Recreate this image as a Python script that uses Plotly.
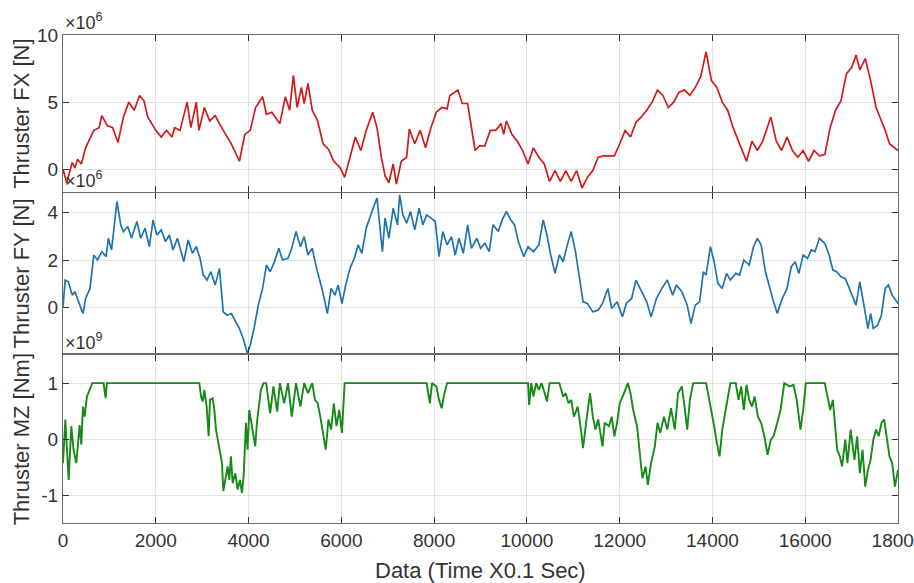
import plotly.graph_objects as go

# ---------------- data ----------------
# Thruster FX, values in units of 1e6 N
fx_t = [0, 81, 198, 256, 314, 395, 488, 663, 779, 837, 954, 1070, 1186, 1303, 1419, 1535, 1651, 1745, 1826,
        2000, 2117, 2233, 2349, 2407, 2524, 2675, 2756, 2873, 2931, 3047, 3163, 3280, 3454, 3629, 3803, 3919,
        4036, 4152, 4303, 4385, 4501, 4675, 4792, 4885, 4966, 5047, 5140, 5198, 5280, 5373, 5489, 5606, 5722,
        5838, 5978, 6071, 6187, 6303, 6420, 6536, 6676, 6769, 6862, 6943, 7025, 7118, 7187, 7292, 7408, 7466,
        7583, 7699, 7815, 7931, 8048, 8164, 8280, 8339, 8513, 8606, 8722, 8804, 8885, 8978, 9094, 9211, 9327,
        9443, 9501, 9559, 9676, 9792, 9908, 10025, 10141, 10257, 10374, 10490, 10606, 10723, 10839, 10955,
        11072, 11188, 11304, 11421, 11537, 11653, 11886, 12002, 12118, 12234, 12351, 12467, 12583, 12700,
        12816, 12932, 13049, 13165, 13281, 13398, 13514, 13630, 13747, 13863, 13979, 14096, 14212, 14328,
        14445, 14561, 14735, 14852, 14968, 15084, 15258, 15375, 15491, 15608, 15724, 15840, 15956, 16073,
        16189, 16305, 16422, 16538, 16654, 16771, 16887, 17003, 17096, 17178, 17294, 17410, 17527, 17643,
        17724, 17817, 17934, 18000]
fx_v = [0, -1.0, 0.5, 0.1, 0.75, 0.4, 1.6, 2.9, 3.1, 4.0, 3.25, 3.1, 2.0, 3.9, 5.0, 4.4, 5.5, 5.1, 3.9,
        2.9, 2.4, 2.9, 2.4, 3.1, 2.9, 5.0, 3.1, 5.0, 2.9, 4.6, 3.6, 4.0, 2.9, 1.9, 0.6, 2.6,
        2.9, 4.6, 5.4, 4.1, 4.25, 3.4, 5.4, 4.4, 7.0, 4.6, 6.1, 4.9, 6.4, 4.4, 3.6, 1.9, 1.5,
        0.6, 0.1, -0.6, 0.9, 2.4, 1.4, 2.9, 4.25, 3.1, 0.9, -0.5, -1.0, 0.4, -1.1, 0.6, 0.9, 3.0,
        1.9, 2.9, 1.6, 3.1, 4.25, 4.6, 4.5, 5.5, 5.9, 4.9, 4.9, 3.1, 1.4, 1.75, 1.75, 2.9, 2.9,
        3.4, 2.6, 3.6, 2.6, 2.1, 1.4, 0.4, 1.6, 0.9, 0.4, -0.9, -0.1, -0.9, -0.1, -0.9,
        -0.1, -1.4, -0.6, -0.1, 0.9, 1.0, 1.0, 1.9, 2.9, 2.4, 3.5, 3.9, 4.4, 5.0,
        5.9, 5.5, 4.6, 5.0, 5.75, 5.9, 5.5, 6.1, 6.9, 8.75, 6.6, 6.1, 5.0, 4.4,
        3.1, 2.1, 0.6, 2.1, 1.4, 2.1, 3.9, 2.1, 1.4, 2.4, 1.4, 0.9, 1.4, 0.6,
        1.4, 1.0, 1.1, 3.1, 4.4, 5.1, 7.1, 7.6, 8.5, 7.4, 8.25, 6.6, 4.6, 3.6,
        2.9, 1.9, 1.6, 1.4]

# Thruster FY, values in units of 1e6 N
fy_t = [0, 47, 116, 198, 256, 349, 430, 488, 582, 663, 744, 837, 930, 977, 1047, 1163, 1244, 1303, 1396,
        1477, 1593, 1675, 1768, 1861, 1942, 2024, 2117, 2210, 2291, 2373, 2466, 2605, 2698, 2791, 2873,
        2954, 3024, 3105, 3187, 3280, 3373, 3454, 3536, 3629, 3722, 3803, 3896, 3977, 4036, 4117, 4210,
        4303, 4385, 4466, 4559, 4652, 4733, 4850, 4931, 5024, 5117, 5199, 5280, 5373, 5466, 5582, 5699,
        5780, 5862, 5931, 6013, 6094, 6187, 6280, 6362, 6443, 6536, 6629, 6711, 6769, 6827, 6885, 6943,
        7025, 7118, 7211, 7257, 7327, 7408, 7490, 7583, 7676, 7757, 7839, 7932, 8025, 8106, 8188, 8281,
        8374, 8455, 8536, 8629, 8723, 8804, 8920, 9002, 9095, 9188, 9269, 9385, 9467, 9560, 9653, 9734,
        9816, 9932, 10025, 10141, 10258, 10351, 10432, 10514, 10607, 10700, 10781, 10862, 10955, 11048,
        11130, 11211, 11304, 11421, 11537, 11630, 11746, 11828, 11944, 12060, 12142, 12258, 12351, 12467,
        12584, 12677, 12793, 12909, 13026, 13142, 13223, 13340, 13456, 13537, 13630, 13723, 13805, 13863,
        13956, 14037, 14119, 14212, 14305, 14386, 14503, 14584, 14677, 14793, 14886, 14968, 15049, 15142,
        15235, 15317, 15398, 15491, 15607, 15700, 15782, 15863, 15956, 16049, 16131, 16212, 16305, 16421,
        16515, 16596, 16677, 16770, 16864, 16945, 17026, 17096, 17177, 17259, 17352, 17410, 17468, 17561,
        17642, 17724, 17794, 17875, 18000]
fy_v = [0.04, 1.16, 1.09, 0.53, 0.67, 0.18, -0.24, 0.39, 0.81, 2.21, 2.0, 2.35, 2.14, 2.91, 2.42, 4.45,
        3.47, 3.19, 3.40, 2.91, 3.61, 2.91, 3.33, 2.56, 3.68, 3.05, 3.26, 2.77, 3.05, 2.42, 2.91, 1.93,
        2.84, 2.28, 2.56, 2.07, 1.37, 1.16, 1.51, 0.95, 1.65, -0.17, -0.31, -0.24, -0.59, -0.87, -1.36,
        -1.92, -1.57, -0.87, 0.11, 0.81, 1.79, 1.51, 1.93, 2.49, 2.0, 2.07, 2.49, 3.19, 2.56, 2.98, 2.21,
        2.49, 1.65, 0.81, -0.24, 0.81, 0.53, 0.95, 0.18, 0.95, 1.65, 2.07, 2.63, 2.28, 3.33, 3.89, 4.31,
        4.59, 3.33, 2.35, 3.75, 2.91, 4.17, 3.47, 4.73, 3.89, 3.54, 4.03, 3.26, 4.17, 3.47, 3.89, 3.75,
        3.61, 2.14, 3.19, 2.63, 2.98, 2.21, 2.91, 2.28, 3.47, 2.49, 2.91, 2.49, 2.70, 2.35, 3.47, 3.19,
        3.68, 4.03, 3.68, 3.47, 2.77, 2.14, 2.56, 2.35, 2.63, 3.68, 3.05, 2.21, 1.44, 2.21, 1.93, 2.56,
        3.19, 2.35, 1.23, 0.25, 0.18, -0.17, -0.10, 0.18, 0.81, -0.03, 0.25, -0.38, 0.18, 0.39, 1.16,
        0.67, 0.25, -0.38, 0.39, 0.81, 1.16, 0.53, 0.95, 0.67, 0.11, -0.66, 0.11, 0.25, 1.51, 1.37,
        2.56, 1.93, 1.02, 0.81, 1.44, 1.16, 1.44, 1.37, 2.0, 1.79, 2.56, 2.91, 2.63, 1.51, 0.81, 0.25,
        -0.24, 0.32, 0.81, 1.72, 1.93, 1.44, 2.21, 2.07, 2.42, 2.35, 2.91, 2.70, 2.21, 1.58, 1.51, 1.30,
        1.23, 0.81, 0.39, 0.11, 1.09, 0.18, -0.87, -0.24, -0.87, -0.73, -0.31, 0.81, 0.95, 0.53, 0.18]

# Thruster MZ, values in units of 1e9 Nm
mz_t = [0, 50, 122, 179, 229, 287, 358, 394, 430, 466, 516, 574, 631, 875, 918, 946, 2940, 2976, 3011,
        3047, 3097, 3140, 3169, 3227, 3262, 3298, 3370, 3427, 3456, 3513, 3549, 3585, 3620, 3657, 3714,
        3764, 3814, 3857, 3893, 3944, 3979, 4015, 4051, 4087, 4144, 4180, 4230, 4266, 4323, 4380, 4466,
        4536, 4617, 4675, 4768, 4850, 4931, 5024, 5117, 5199, 5280, 5373, 5431, 5489, 5547, 5606, 5664,
        5722, 5780, 5838, 5896, 5955, 6013, 6071, 7839, 7908, 7955, 8048, 8106, 8164, 8222, 8280, 10025,
        10048, 10095, 10141, 10200, 10258, 10316, 10374, 10432, 10490, 10700, 10781, 10839, 10897, 10955,
        11014, 11095, 11165, 11211, 11281, 11362, 11421, 11479, 11537, 11630, 11676, 11770, 11828, 11886,
        11944, 12002, 12095, 12177, 12234, 12292, 12374, 12444, 12490, 12560, 12607, 12677, 12758, 12816,
        12874, 12955, 13026, 13107, 13188, 13258, 13340, 13398, 13456, 13514, 13584, 13863, 13921, 13979,
        14037, 14096, 14154, 14212, 14282, 14328, 14386, 14503, 14561, 14619, 14677, 14735, 14793, 14852,
        14910, 14980, 15049, 15119, 15189, 15258, 15317, 15398, 15468, 15549, 15665, 15747, 15817, 15898,
        15956, 16014, 16422, 16480, 16538, 16596, 16654, 16689, 16747, 16794, 16864, 16910, 16980, 17061,
        17119, 17178, 17236, 17294, 17352, 17410, 17468, 17527, 17585, 17643, 17701, 17759, 17817, 17875,
        17934, 18000]
mz_v = [-0.43, 0.35, -0.73, 0.23, -0.2, -0.43, 0.25, -0.1, 0.58, 0.4, 0.76, 0.88, 1.0, 1.0, 0.73, 1.0, 1.0,
        0.76, 0.67, 0.88, 0.58, 0.05, 0.7, 0.73, 0.52, 0.17, -0.13, -0.43, -0.93, -0.61, -0.49, -0.73,
        -0.31, -0.79, -0.61, -0.9, -0.73, -0.96, -0.67, 0.29, -0.19, 0.52, 0.35, 0.17, -0.13, 0.29, 0.58,
        0.88, 1.0, 1.0, 0.46, 0.94, 0.49, 1.0, 0.64, 1.0, 0.40, 1.0, 0.58, 1.0, 0.82, 1.0, 0.70, 0.64,
        0.40, 0.11, -0.19, 0.35, 0.17, 0.64, 0.23, 0.52, 0.11, 1.0, 1.0, 0.64, 1.0, 0.94, 0.70, 0.55,
        0.82, 1.0, 1.0, 0.61, 1.0, 0.76, 1.0, 0.88, 1.0, 0.85, 0.67, 1.0, 1.0, 0.76, 0.82, 0.64, 0.70,
        0.40, 0.58, 0.17, -0.16, 0.32, 0.82, 0.40, 0.17, 0.35, -0.13, 0.29, 0.23, 0.40, 0.05, 0.29, 0.64,
        0.82, 1.0, 0.82, 0.52, 0.23, -0.31, -0.70, -0.49, -0.82, -0.43, -0.13, 0.29, 0.11, 0.40, 0.17,
        0.55, 0.17, 0.82, 0.94, 0.58, 0.17, 0.70, 1.0, 1.0, 0.76, 0.46, 0.23, -0.07, -0.31, 0.17, 0.52,
        0.70, 1.0, 1.0, 0.70, 0.94, 0.52, 0.97, 0.70, 0.58, 0.76, 0.40, 0.29, 0.05, -0.28, -0.01, 0.05,
        0.29, 0.52, 1.0, 0.94, 0.97, 0.70, 0.17, 0.52, 1.0, 1.0, 0.76, 0.52, 0.70, 0.17, -0.19, -0.31,
        -0.49, -0.01, -0.43, 0.17, -0.37, 0.05, -0.61, -0.19, -0.85, -0.55, -0.37, -0.01, 0.17, 0.05,
        0.29, 0.35, 0.05, -0.31, -0.43, -0.85, -0.55]

x_ticks = [0, 2000, 4000, 6000, 8000, 10000, 12000, 14000, 16000, 18000]
x_tick_labels = ["0", "2000", "4000", "6000", "8000", "10000", "12000", "14000", "16000", "18000"]
fx_ticks = [0, 5, 10]
fy_ticks = [0, 2, 4]
mz_ticks = [-1, 0, 1]

# ---------------- styling ----------------
FONT = "Arial, 'Liberation Sans', Helvetica, sans-serif"
TXT = "#333333"
GRID = "#e3e3e3"
AX = "#6a6a6a"

fig = go.Figure()
fig.add_trace(go.Scatter(x=fx_t, y=fx_v, mode="lines", line=dict(color="#cf1b1b", width=1.7),
                         xaxis="x", yaxis="y", showlegend=False))
fig.add_trace(go.Scatter(x=fy_t, y=fy_v, mode="lines", line=dict(color="#1f74b0", width=1.7),
                         xaxis="x2", yaxis="y2", showlegend=False))
fig.add_trace(go.Scatter(x=mz_t, y=mz_v, mode="lines", line=dict(color="#168a16", width=1.9),
                         xaxis="x3", yaxis="y3", showlegend=False))


def xax(anchor, labels):
    return dict(domain=[0, 1], anchor=anchor, range=[0, 18000], tickvals=x_ticks,
                ticktext=x_tick_labels, automargin=False, ticklabeloverflow="allow",
                showticklabels=labels, showgrid=True, gridcolor=GRID, gridwidth=1,
                showline=True, linecolor=AX, linewidth=1.2, mirror="ticks",
                ticks="inside", ticklen=6, tickcolor="#333", zeroline=False,
                tickfont=dict(size=19, color=TXT, family=FONT))


def yax(anchor, dom, rng, tv):
    return dict(domain=dom, anchor=anchor, range=rng, tickvals=tv,
                ticktext=[str(v) for v in tv], automargin=False, ticklabeloverflow="allow",
                showgrid=True, gridcolor=GRID, gridwidth=1,
                showline=True, linecolor=AX, linewidth=1.2, mirror="ticks",
                ticks="inside", ticklen=6, tickcolor="#333", zeroline=False,
                tickfont=dict(size=19, color=TXT, family=FONT))


d1 = [0.678, 1.0]
d2 = [0.348, 0.676]
d3 = [0.0, 0.344]

fig.update_layout(
    width=914, height=583,
    margin=dict(l=63, r=16, t=35, b=60, autoexpand=False),
    paper_bgcolor="white", plot_bgcolor="white",
    font=dict(family=FONT, color=TXT),
    xaxis=xax("y", False),
    xaxis2=xax("y2", False),
    xaxis3=xax("y3", True),
    yaxis=yax("x", d1, [-1.7, 10], fx_ticks),
    yaxis2=yax("x2", d2, [-1.9, 4.8], fy_ticks),
    yaxis3=yax("x3", d3, [-1.5, 1.5], mz_ticks),
)

ann = []
for dom, exp in [(d1, "6"), (d2, "6"), (d3, "9")]:
    ann.append(dict(text="×10<sup>" + exp + "</sup>", xref="paper", yref="paper", x=0.0, y=dom[1],
                    xanchor="left", yanchor="bottom", showarrow=False,
                    font=dict(size=18, color=TXT, family=FONT)))
for dom, title in [(d1, "Thruster FX [N]"), (d2, "Thruster FY [N]"), (d3, "Thruster MZ [Nm]")]:
    ann.append(dict(text=title, xref="paper", yref="paper", x=-0.05, y=(dom[0] + dom[1]) / 2,
                    xanchor="center", yanchor="middle", textangle=-90, showarrow=False,
                    font=dict(size=22, color=TXT, family=FONT)))
ann.append(dict(text="Data (Time X0.1 Sec)", xref="paper", yref="paper", x=0.5, y=-0.098,
                xanchor="center", yanchor="middle", showarrow=False,
                font=dict(size=22, color=TXT, family=FONT)))
fig.update_layout(annotations=ann)

fig.write_html("out.html")
